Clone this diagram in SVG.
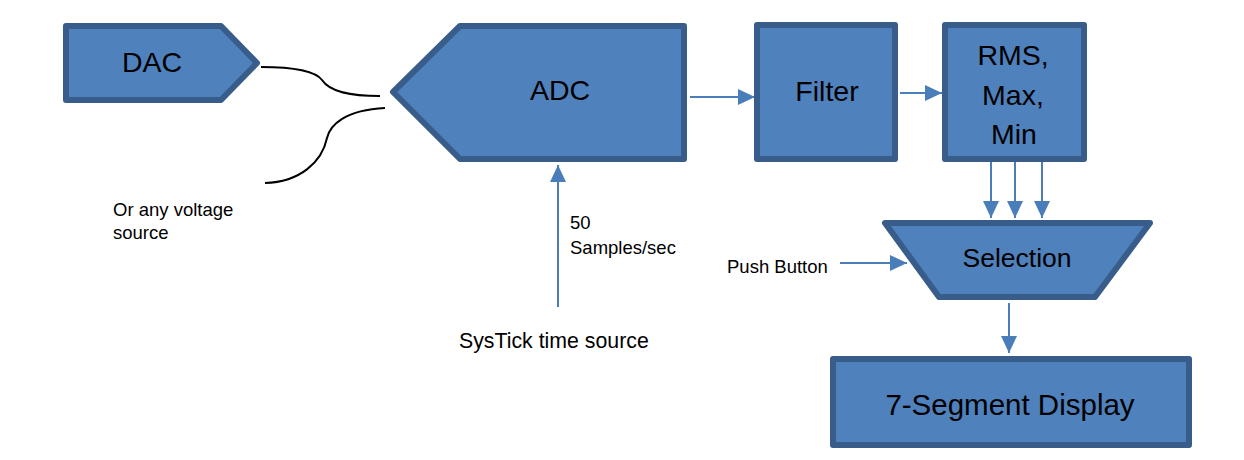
<svg xmlns="http://www.w3.org/2000/svg" width="1244" height="460" viewBox="0 0 1244 460">
<style>
.node{fill:#4f81bd;stroke:#385d8a;stroke-width:6;stroke-linejoin:round}
.big{font-family:"Liberation Sans",Arial,sans-serif;font-size:28.5px;fill:#000;text-anchor:middle}
.small{font-family:"Liberation Sans",Arial,sans-serif;font-size:18.5px;fill:#000}
.conn{stroke:#4a7ebb;stroke-width:2;fill:none}
.wire{stroke:#000;stroke-width:2;fill:none}
</style>
<defs>
<marker id="ah" markerUnits="userSpaceOnUse" markerWidth="17" markerHeight="16" refX="17" refY="8" orient="auto">
<path d="M0,0 L17,8 L0,16 z" fill="#4a7ebb"/>
</marker>
</defs>
<rect width="1244" height="460" fill="#fff"/>
<g id="connectors">
<path class="wire" d="M261,67 C300,67 316,72 322,80 C330,92 350,96 380,96"/>
<path class="wire" d="M385,108 C345,110 330,125 327,138 C322,162 300,182 265,183"/>
<line class="conn" x1="690" y1="97" x2="755" y2="97" marker-end="url(#ah)"/>
<line class="conn" x1="900" y1="93" x2="942" y2="93" marker-end="url(#ah)"/>
<line class="conn" x1="558" y1="307" x2="558" y2="165" marker-end="url(#ah)"/>
<line class="conn" x1="991" y1="162" x2="991" y2="218" marker-end="url(#ah)"/>
<line class="conn" x1="1015" y1="162" x2="1015" y2="218" marker-end="url(#ah)"/>
<line class="conn" x1="1042" y1="162" x2="1042" y2="218" marker-end="url(#ah)"/>
<line class="conn" x1="840" y1="263" x2="907" y2="263" marker-end="url(#ah)"/>
<line class="conn" x1="1009" y1="303" x2="1009" y2="353" marker-end="url(#ah)"/>
</g>
<g id="dac">
<polygon class="node" points="66,26 221,26 257,63 221,100 66,100"/>
<text class="big" x="152" y="72">DAC</text>
</g>
<g id="adc">
<polygon class="node" points="393,92 460,26 684,26 684,159 460,159"/>
<text class="big" x="560" y="100">ADC</text>
</g>
<g id="filter">
<rect class="node" x="757" y="25" width="138" height="134"/>
<text class="big" x="827" y="101">Filter</text>
</g>
<g id="rms">
<rect class="node" x="945" y="25" width="139" height="134"/>
<text class="big" x="1013" y="65">RMS,</text>
<text class="big" x="1013" y="105">Max,</text>
<text class="big" x="1014" y="144">Min</text>
</g>
<g id="selection">
<polygon class="node" points="885,223 1150,223 1095,297 939,297"/>
<text class="big" x="1017" y="267" style="font-size:26.5px">Selection</text>
</g>
<g id="display">
<rect class="node" x="833" y="359" width="356" height="86"/>
<text class="big" x="1010" y="415" style="font-size:29.5px">7-Segment Display</text>
</g>
<g id="labels">
<text class="small" x="113" y="216">Or any voltage</text>
<text class="small" x="113" y="239">source</text>
<text class="small" x="570" y="229">50</text>
<text class="small" x="570" y="254">Samples/sec</text>
<text class="small" x="459" y="348" style="font-size:21.3px">SysTick time source</text>
<text class="small" x="727" y="273">Push Button</text>
</g>
</svg>
